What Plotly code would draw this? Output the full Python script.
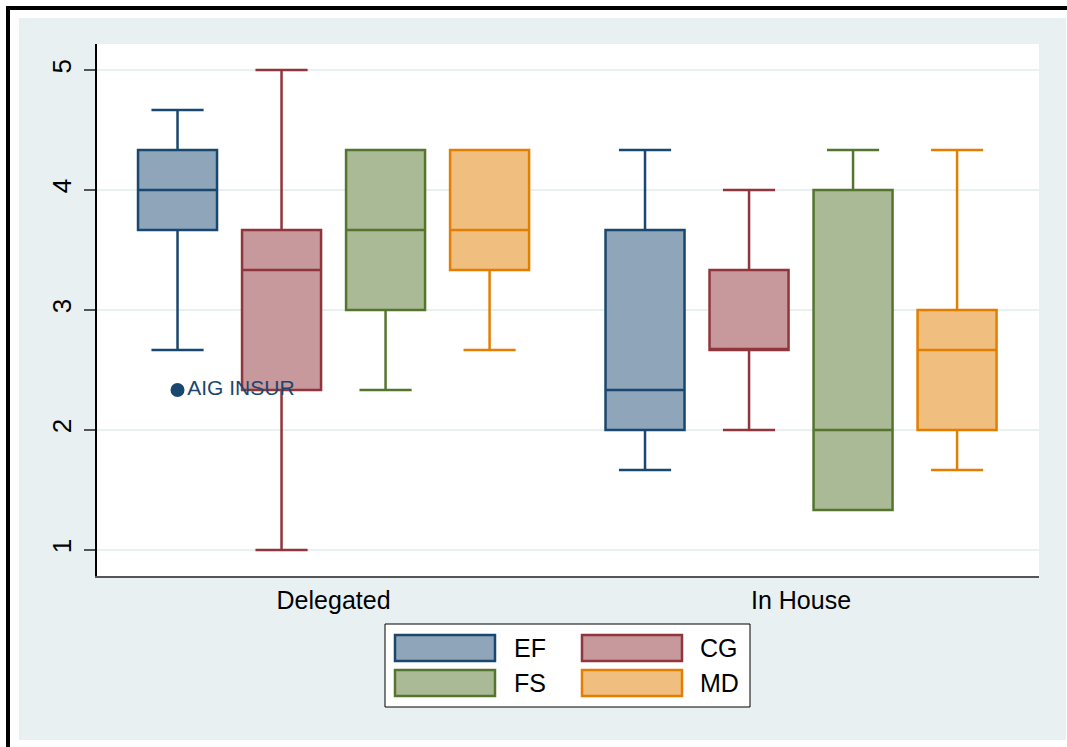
import plotly.graph_objects as go

# Groups on the x axis and the four score series drawn in each group
groups = ["Delegated", "In House"]
series = ["EF", "CG", "FS", "MD"]

# Box statistics per series, one value per group (Delegated, In House)
lower = {"EF": [2.667, 1.667], "CG": [1.0, 2.0], "FS": [2.333, 1.333], "MD": [2.667, 1.667]}
q1 = {"EF": [3.667, 2.0], "CG": [2.333, 2.667], "FS": [3.0, 1.333], "MD": [3.333, 2.0]}
median = {"EF": [4.0, 2.333], "CG": [3.333, 2.667], "FS": [3.667, 2.0], "MD": [3.667, 2.667]}
q3 = {"EF": [4.333, 3.667], "CG": [3.667, 3.333], "FS": [4.333, 4.0], "MD": [4.333, 3.0]}
upper = {"EF": [4.667, 4.333], "CG": [5.0, 4.0], "FS": [4.333, 4.333], "MD": [4.333, 4.333]}

# Outside value
outlier_series = "EF"
outlier_group = 0
outlier_value = [2.333]
outlier_label = ["AIG INSUR"]

y_ticks = [1, 2, 3, 4, 5]

line_colors = {"EF": "#1A476F", "CG": "#90353B", "FS": "#55752F", "MD": "#E37E00"}
fill_colors = {"EF": "#8EA5BA", "CG": "#C8999C", "FS": "#AABA96", "MD": "#F0BF80"}

FONT = "Liberation Sans, Arial, sans-serif"
W, H = 1067, 747
PL, PR, PT, PB = 97, 1039, 44, 576
BG = "#E8F0F2"

# Position of each series within a group (in x-axis units)
STEP = 0.2225
BOX_W = 0.169


def offset(k):
    return (k - (len(series) - 1) / 2) * STEP


def fx(px):
    return (px - PL) / (PR - PL)


def fy(py):
    return (PB - py) / (PB - PT)


fig = go.Figure()

for k, s in enumerate(series):
    fig.add_trace(go.Box(
        x=[g + offset(k) for g in range(len(groups))],
        q1=q1[s], median=median[s], q3=q3[s],
        lowerfence=lower[s], upperfence=upper[s],
        name=s, width=BOX_W, whiskerwidth=0.66,
        boxpoints=False,
        line=dict(color=line_colors[s], width=2.5),
        fillcolor=fill_colors[s],
        showlegend=False,
    ))

ko = series.index(outlier_series)
fig.add_trace(go.Scatter(
    x=[outlier_group + offset(ko)] * len(outlier_value), y=outlier_value,
    mode="markers+text", text=outlier_label, textposition="middle right",
    marker=dict(color=line_colors[outlier_series], size=14),
    textfont=dict(color=line_colors[outlier_series], size=21, family=FONT),
    showlegend=False, cliponaxis=False,
))

shapes = []
# white outer frame strips and black edge bars
for x0, y0, x1, y1 in [(0, 0, 19, H), (0, 0, W, 18), (0, 740, W, H), (1066, 0, W, H)]:
    shapes.append(dict(type="rect", xref="paper", yref="paper",
                       x0=fx(x0), x1=fx(x1), y0=fy(y1), y1=fy(y0),
                       fillcolor="white", line=dict(width=0), layer="above"))
for x0, y0, x1, y1 in [(6, 6, W, 10), (6, 6, 10, H)]:
    shapes.append(dict(type="rect", xref="paper", yref="paper",
                       x0=fx(x0), x1=fx(x1), y0=fy(y1), y1=fy(y0),
                       fillcolor="black", line=dict(width=0), layer="above"))

# legend frame
shapes.append(dict(type="rect", xref="paper", yref="paper",
                   x0=fx(385), x1=fx(750), y0=fy(707), y1=fy(624),
                   fillcolor="white", line=dict(color="black", width=1), layer="above"))

annotations = []
sw_x = [395, 582]
txt_x = [512, 698]
row_y = [(635, 661), (670, 696)]
for k, s in enumerate(series):
    r, c = divmod(k, 2)
    ya, yb = row_y[r]
    shapes.append(dict(type="rect", xref="paper", yref="paper",
                       x0=fx(sw_x[c]), x1=fx(sw_x[c] + 100), y0=fy(yb), y1=fy(ya),
                       fillcolor=fill_colors[s], line=dict(color=line_colors[s], width=2.5),
                       layer="above"))
    annotations.append(dict(xref="paper", yref="paper", x=fx(txt_x[c]), y=fy((ya + yb) / 2),
                            text=s, showarrow=False, xanchor="left", yanchor="middle",
                            font=dict(size=25, color="black", family=FONT)))

fig.update_layout(
    width=W, height=H,
    margin=dict(l=PL, r=W - PR, t=PT, b=H - PB, pad=0),
    paper_bgcolor=BG, plot_bgcolor="white",
    font=dict(family=FONT, size=25, color="black"),
    shapes=shapes, annotations=annotations,
    showlegend=False,
)
fig.update_xaxes(
    range=[-0.506, 1.509], tickvals=list(range(len(groups))), ticktext=groups,
    ticks="", showgrid=False, zeroline=False,
    showline=True, linecolor="#555555", linewidth=2,
    ticklabelstandoff=1, tickfont=dict(size=25),
)
fig.update_yaxes(
    range=[0.783, 5.217], tickvals=y_ticks, tickangle=-90,
    ticks="outside", ticklen=11, tickcolor="#555555", tickwidth=1.5,
    showgrid=True, gridcolor="#E8F0F2", gridwidth=2, zeroline=False,
    showline=True, linecolor="black", linewidth=1.5,
    ticklabelstandoff=3, tickfont=dict(size=26),
)

fig.write_html("out.html")
